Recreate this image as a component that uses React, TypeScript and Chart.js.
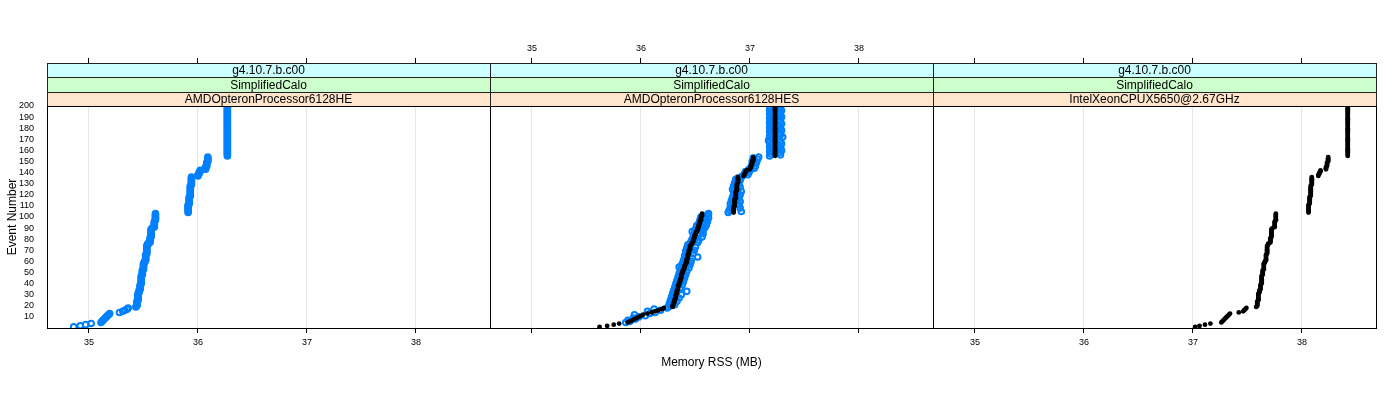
import React, { useEffect, useRef } from 'react';
import { Chart, registerables } from 'chart.js';

Chart.register(...registerables);
Chart.defaults.font.family = '"Liberation Sans", Arial, Helvetica, sans-serif';

// ---------- data ----------
const eventNumbers = [
  1, 2, 3, 4, 5, 6, 7, 8, 9, 10, 11, 12, 13, 14, 15, 16, 17, 18, 19, 20,
  21, 22, 23, 24, 25, 26, 27, 28, 29, 30, 31, 32, 33, 34, 35, 36, 37, 38, 39, 40,
  41, 42, 43, 44, 45, 46, 47, 48, 49, 50, 51, 52, 53, 54, 55, 56, 57, 58, 59, 60,
  61, 62, 63, 64, 65, 66, 67, 68, 69, 70, 71, 72, 73, 74, 75, 76, 77, 78, 79, 80,
  81, 82, 83, 84, 85, 86, 87, 88, 89, 90, 91, 92, 93, 94, 95, 96, 97, 98, 99, 100,
  101, 102, 103, 104, 105, 106, 107, 108, 109, 110, 111, 112, 113, 114, 115, 116, 117, 118, 119, 120,
  121, 122, 123, 124, 125, 126, 127, 128, 129, 130, 131, 132, 133, 134, 135, 136, 137, 138, 139, 140,
  141, 142, 143, 144, 145, 146, 147, 148, 149, 150, 151, 152, 153, 154, 155, 156, 157, 158, 159, 160,
  161, 162, 163, 164, 165, 166, 167, 168, 169, 170, 171, 172, 173, 174, 175, 176, 177, 178, 179, 180,
  181, 182, 183, 184, 185, 186, 187, 188, 189, 190, 191, 192, 193, 194, 195, 196, 197, 198, 199, 200,
];

const xTickValues = [35, 36, 37, 38];
const yTickValues = [10, 20, 30, 40, 50, 60, 70, 80, 90, 100, 110, 120, 130, 140, 150, 160, 170, 180, 190, 200];

const stripVersion = ['g4.10.7.b.c00', 'g4.10.7.b.c00', 'g4.10.7.b.c00'];
const stripTest = ['SimplifiedCalo', 'SimplifiedCalo', 'SimplifiedCalo'];
const stripCpu = ['AMDOpteronProcessor6128HE', 'AMDOpteronProcessor6128HES', 'IntelXeonCPUX5650@2.67GHz'];

// Panel 1 (AMD 6128HE), blue
const heBlue = [
  34.86, 34.92, 34.97, 35.02,
  35.11, 35.12, 35.13, 35.14, 35.15, 35.16, 35.17, 35.18, 35.19,
  35.28,
  35.31, 35.33, 35.35, 35.36,
  35.43, 35.44, 35.44, 35.44, 35.44, 35.44, 35.45, 35.45,
  35.45, 35.45, 35.45, 35.45, 35.45, 35.46, 35.46, 35.46,
  35.47, 35.47, 35.47, 35.47, 35.47, 35.48, 35.48, 35.48,
  35.48, 35.48, 35.48, 35.48, 35.48, 35.49, 35.49,
  35.49, 35.49, 35.49, 35.50, 35.50, 35.50,
  35.50, 35.50, 35.50, 35.51, 35.51,
  35.52, 35.52, 35.52, 35.52, 35.52, 35.52, 35.53, 35.53,
  35.53, 35.53, 35.53, 35.53, 35.53, 35.53, 35.54, 35.54,
  35.56, 35.56, 35.56, 35.56, 35.56, 35.57, 35.57,
  35.57, 35.57, 35.57, 35.57, 35.57, 35.57, 35.58,
  35.60, 35.60, 35.60, 35.60, 35.60, 35.60,
  35.61, 35.61, 35.61, 35.61, 35.61, 35.61, 35.61,
  35.91, 35.91, 35.91, 35.91, 35.91, 35.91, 35.91, 35.91, 35.92, 35.92, 35.92, 35.92, 35.92, 35.92, 35.92,
  35.93, 35.93, 35.93, 35.93, 35.93, 35.93, 35.93, 35.93, 35.93, 35.93, 35.94, 35.94, 35.94, 35.94, 35.94, 35.94, 35.94, 35.94,
  36.00, 36.00, 36.01, 36.01, 36.02, 36.02,
  36.07, 36.07, 36.07, 36.08, 36.08, 36.08,
  36.08, 36.09, 36.09, 36.09, 36.09, 36.09,
  36.27, 36.27, 36.27, 36.27, 36.27, 36.27, 36.27, 36.27, 36.27, 36.27,
  36.27, 36.27, 36.27, 36.27, 36.27, 36.27, 36.27, 36.27, 36.27, 36.27,
  36.27, 36.27, 36.27, 36.27, 36.27, 36.27, 36.27, 36.27, 36.27, 36.27,
  36.27, 36.27, 36.27, 36.27, 36.27, 36.27, 36.27, 36.27, 36.27, 36.27,
  36.27, 36.27, 36.27, 36.27, 36.27, 36.27,
];

// Panel 2 (AMD 6128HES), black reference
const hesBlack = [
  35.62, 35.69, 35.75, 35.80,
  35.88, 35.90, 35.92, 35.94, 35.96, 35.98, 36.00, 36.02,
  36.06,
  36.10, 36.13, 36.16, 36.19, 36.21,
  36.29, 36.29, 36.30, 36.30, 36.30, 36.31, 36.31, 36.31, 36.32, 36.32, 36.32, 36.32, 36.33, 36.33, 36.33, 36.33, 36.34, 36.34,
  36.34, 36.34, 36.35, 36.35, 36.35, 36.36, 36.36, 36.36, 36.37, 36.37, 36.37, 36.37,
  36.38, 36.38, 36.38, 36.39, 36.39, 36.40, 36.40, 36.40, 36.41, 36.41, 36.42, 36.42,
  36.42, 36.42, 36.43, 36.43, 36.43, 36.43, 36.44, 36.44, 36.44, 36.44, 36.45, 36.45, 36.45, 36.45, 36.46,
  36.47, 36.47, 36.48, 36.48, 36.48, 36.49, 36.49, 36.49, 36.50, 36.50, 36.51, 36.51,
  36.52, 36.52, 36.52, 36.53, 36.53, 36.53, 36.54, 36.54, 36.54, 36.55, 36.55, 36.55, 36.55, 36.56, 36.56, 36.56,
  36.85, 36.85, 36.85, 36.85, 36.85, 36.85, 36.86, 36.86, 36.86, 36.86, 36.86, 36.86, 36.86,
  36.87, 36.87, 36.87, 36.87, 36.87, 36.87, 36.87, 36.88, 36.88, 36.88, 36.88, 36.88, 36.88, 36.88,
  36.89, 36.89, 36.89, 36.89, 36.89, 36.89,
  36.94, 36.95, 36.95, 36.96, 36.96, 36.97,
  37.00, 37.00, 37.01, 37.01, 37.01, 37.02, 37.02, 37.02, 37.03, 37.03, 37.03, 37.03,
  37.23, 37.23, 37.23, 37.23, 37.23, 37.23, 37.23, 37.23, 37.23, 37.23,
  37.23, 37.23, 37.23, 37.23, 37.23, 37.23, 37.23, 37.23, 37.23, 37.23,
  37.23, 37.23, 37.23, 37.23, 37.23, 37.23, 37.23, 37.23, 37.23, 37.23,
  37.23, 37.23, 37.23, 37.23, 37.23, 37.23, 37.23, 37.23, 37.23, 37.23,
  37.23, 37.23, 37.23, 37.23, 37.23, 37.23,
];

// Panel 2 (AMD 6128HES), blue
const hesBlue = [
  null, null, null, null,
  35.86, 35.90, 35.88, 35.95, 35.93, 35.98, 36.04, 35.94,
  36.08,
  36.13, 36.06, 36.18, 36.12, 36.24,
  36.25, 36.27, 36.31, 36.26, 36.28, 36.33, 36.27, 36.29, 36.35, 36.28, 36.30, 36.37, 36.29, 36.31, 36.42, 36.30, 36.32, 36.36,
  36.31, 36.33, 36.38, 36.32, 36.34, 36.39, 36.33, 36.35, 36.40, 36.34, 36.36, 36.41,
  36.35, 36.37, 36.42, 36.36, 36.38, 36.44, 36.35, 36.37, 36.45, 36.38, 36.40, 36.46,
  36.39, 36.41, 36.47, 36.52, 36.40, 36.42, 36.48, 36.43, 36.41, 36.49, 36.44, 36.42, 36.50, 36.45, 36.43,
  36.45, 36.52, 36.46, 36.53, 36.47, 36.51, 36.56, 36.48, 36.52, 36.57, 36.49, 36.47,
  36.57, 36.50, 36.58, 36.59, 36.51, 36.60, 36.53, 36.58, 36.61, 36.54, 36.59, 36.62, 36.55, 36.60, 36.61, 36.62,
  36.80, 36.92, 36.81, 36.83, 36.91, 36.82, 36.84, 36.90, 36.82, 36.85, 36.91, 36.83, 36.86, 36.90, 36.84, 36.87,
  36.91, 36.85, 36.88, 36.92, 36.86, 36.84, 36.89, 36.91, 36.85, 36.87, 36.90, 36.86, 36.88, 36.91, 36.87, 36.89, 36.92,
  36.93, 36.98, 36.95, 36.99, 36.96, 37.00,
  36.99, 37.04, 37.01, 37.05, 37.02, 37.03, 37.06, 37.02, 37.04, 37.07, 37.03, 37.08,
  37.18, 37.28, 37.19, 37.27, 37.18, 37.29, 37.20, 37.28, 37.18, 37.27,
  37.19, 37.29, 37.18, 37.28, 37.17, 37.27, 37.19, 37.30, 37.18, 37.28,
  37.19, 37.27, 37.18, 37.29, 37.20, 37.28, 37.18, 37.27, 37.19, 37.29,
  37.18, 37.28, 37.19, 37.27, 37.18, 37.29, 37.20, 37.28, 37.18, 37.27,
  37.19, 37.29, 37.18, 37.28, 37.19, 37.27,
];

// Panel 3 (Intel X5650), black
const intelBlack = [
  37.02, 37.06, 37.11, 37.16,
  37.26, 37.27, 37.28, 37.29, 37.30, 37.31, 37.32, 37.33, 37.34,
  37.42,
  37.46, 37.47, 37.48, 37.49,
  37.58, 37.59, 37.59, 37.59, 37.59, 37.59, 37.60, 37.60,
  37.60, 37.60, 37.60, 37.60, 37.60, 37.61, 37.61, 37.61,
  37.62, 37.62, 37.62, 37.62, 37.62, 37.63, 37.63, 37.63,
  37.63, 37.63, 37.63, 37.63, 37.63, 37.64, 37.64,
  37.64, 37.64, 37.64, 37.65, 37.65, 37.65,
  37.65, 37.65, 37.65, 37.66, 37.66,
  37.67, 37.67, 37.67, 37.67, 37.67, 37.67, 37.68, 37.68,
  37.68, 37.68, 37.68, 37.68, 37.68, 37.68, 37.69, 37.69,
  37.71, 37.71, 37.71, 37.71, 37.71, 37.72, 37.72,
  37.72, 37.72, 37.72, 37.72, 37.72, 37.72, 37.73,
  37.75, 37.75, 37.75, 37.75, 37.75, 37.75,
  37.76, 37.76, 37.76, 37.76, 37.76, 37.76, 37.76,
  38.06, 38.06, 38.06, 38.06, 38.06, 38.06, 38.06, 38.06, 38.07, 38.07, 38.07, 38.07, 38.07, 38.07, 38.07,
  38.08, 38.08, 38.08, 38.08, 38.08, 38.08, 38.08, 38.08, 38.08, 38.08, 38.09, 38.09, 38.09, 38.09, 38.09, 38.09, 38.09, 38.09,
  38.15, 38.15, 38.16, 38.16, 38.17, 38.17,
  38.22, 38.22, 38.22, 38.23, 38.23, 38.23,
  38.23, 38.24, 38.24, 38.24, 38.24, 38.24,
  38.42, 38.42, 38.42, 38.42, 38.42, 38.42, 38.42, 38.42, 38.42, 38.42,
  38.42, 38.42, 38.42, 38.42, 38.42, 38.42, 38.42, 38.42, 38.42, 38.42,
  38.42, 38.42, 38.42, 38.42, 38.42, 38.42, 38.42, 38.42, 38.42, 38.42,
  38.42, 38.42, 38.42, 38.42, 38.42, 38.42, 38.42, 38.42, 38.42, 38.42,
  38.42, 38.42, 38.42, 38.42, 38.42, 38.42,
];

const X_MIN = 34.615;
const X_MAX = 38.679;
const Y_MIN = 0;
const Y_MAX = 200;

const BLUE = '#0080ff';
const STRIP_COLORS = ['#ccffff', '#ccffcc', '#ffe5cc'];

function toPoints(values: (number | null)[]) {
  const pts: { x: number; y: number }[] = [];
  values.forEach((v, i) => {
    if (v !== null && v !== undefined) pts.push({ x: v, y: eventNumbers[i] });
  });
  return pts;
}

const blueRing = (values: (number | null)[]) => ({
  data: toPoints(values),
  pointStyle: 'circle',
  pointRadius: 2.8,
  pointBorderWidth: 2,
  pointBackgroundColor: 'rgba(0,0,0,0)',
  pointBorderColor: BLUE,
  showLine: false,
});

const blackDot = (values: (number | null)[]) => ({
  data: toPoints(values),
  pointStyle: 'circle',
  pointRadius: 2.4,
  pointBorderWidth: 0,
  pointBackgroundColor: '#000',
  pointBorderColor: '#000',
  showLine: false,
});

const panels = [
  { left: 47, right: 490, datasets: [blueRing(heBlue)], idx: 0, showY: true, bottomLabels: true, topLabels: false, xTitle: false },
  { left: 490, right: 933, datasets: [blackDot(hesBlack), blueRing(hesBlue)], idx: 1, showY: false, bottomLabels: false, topLabels: true, xTitle: true },
  { left: 933, right: 1376, datasets: [blackDot(intelBlack)], idx: 2, showY: false, bottomLabels: true, topLabels: false, xTitle: false },
];

const STRIP_TOTAL = 43;

const stripPlugin = {
  id: 'latticeStrips',
  afterDraw(chart: any, _args: any, opts: any) {
    const { ctx, chartArea } = chart;
    const { left, right, top, bottom } = chartArea;
    const i = opts.idx;
    const texts = [stripVersion[i], stripTest[i], stripCpu[i]];
    const edges = [top - STRIP_TOTAL, top - 29, top - 14, top];
    ctx.save();
    for (let k = 0; k < 3; k++) {
      const y0 = edges[k];
      const y1 = edges[k + 1];
      ctx.fillStyle = STRIP_COLORS[k];
      ctx.fillRect(left, y0, right - left, y1 - y0);
    }
    ctx.strokeStyle = '#222';
    ctx.lineWidth = 1;
    for (let k = 0; k < 3; k++) {
      ctx.strokeRect(left + 0.5, edges[k] + 0.5, right - left, edges[k + 1] - edges[k]);
    }
    ctx.fillStyle = '#000';
    ctx.font = '12px "Liberation Sans", Arial, sans-serif';
    ctx.textAlign = 'center';
    ctx.textBaseline = 'middle';
    for (let k = 0; k < 3; k++) {
      ctx.fillText(texts[k], (left + right) / 2, (edges[k] + edges[k + 1]) / 2 + 1);
    }
    ctx.strokeStyle = '#000';
    ctx.strokeRect(left + 0.5, top + 0.5, right - left, bottom - top);
    ctx.restore();
  },
};

const Y_WIDTH = 42;

function Panel({ cfg }: { cfg: any }) {
  const ref = useRef<HTMLCanvasElement>(null);
  useEffect(() => {
    if (!ref.current) return;
    const chart = new Chart(ref.current, {
      type: 'scatter',
      data: { datasets: cfg.datasets },
      plugins: [stripPlugin],
      options: {
        responsive: false,
        animation: false,
        events: [],
        layout: {
          autoPadding: false,
          padding: {
            left: cfg.left - Y_WIDTH,
            right: 1400 - cfg.right,
            top: 26,
            bottom: 30,
          },
        },
        plugins: {
          legend: { display: false },
          tooltip: { enabled: false },
          latticeStrips: { idx: cfg.idx },
        } as any,
        scales: {
          x: {
            type: 'linear',
            position: 'bottom',
            min: X_MIN,
            max: X_MAX,
            afterBuildTicks: (s: any) => {
              s.ticks = xTickValues.map((v) => ({ value: v }));
            },
            afterFit: (s: any) => {
              s.height = 42;
            },
            grid: {
              display: true,
              drawOnChartArea: true,
              drawTicks: true,
              tickLength: 5,
              color: '#e6e6e6',
              tickColor: '#000',
              lineWidth: 1,
            },
            border: { display: false },
            ticks: {
              display: cfg.bottomLabels,
              padding: 4,
              font: { size: 9 },
              color: '#000',
              maxRotation: 0,
              autoSkip: false,
            },
            title: {
              display: cfg.xTitle,
              text: 'Memory RSS (MB)',
              font: { size: 12 },
              color: '#000',
              padding: 0,
            },
          },
          xTop: {
            type: 'linear',
            axis: 'x',
            position: 'top',
            min: X_MIN,
            max: X_MAX,
            afterBuildTicks: (s: any) => {
              s.ticks = xTickValues.map((v) => ({ value: v }));
            },
            afterFit: (s: any) => {
              s.height = 80;
            },
            grid: {
              display: true,
              drawOnChartArea: false,
              drawTicks: true,
              tickLength: 48,
              tickColor: '#000',
              lineWidth: 1,
            },
            border: { display: false },
            ticks: {
              display: cfg.topLabels,
              padding: 4,
              font: { size: 9 },
              color: '#000',
              maxRotation: 0,
              autoSkip: false,
            },
          },
          y: {
            type: 'linear',
            position: 'left',
            min: Y_MIN,
            max: Y_MAX,
            afterBuildTicks: (s: any) => {
              s.ticks = yTickValues.map((v) => ({ value: v }));
            },
            afterFit: (s: any) => {
              s.width = Y_WIDTH;
            },
            grid: { display: false },
            border: { display: false },
            ticks: {
              display: cfg.showY,
              padding: 5,
              font: { size: 9 },
              color: '#000',
              autoSkip: false,
            },
            title: {
              display: cfg.showY,
              text: 'Event Number',
              font: { size: 12 },
              color: '#000',
              padding: 0,
            },
          },
        } as any,
      },
    } as any);
    return () => chart.destroy();
  }, []);
  return (
    <canvas
      ref={ref}
      width={1400}
      height={400}
      style={{ position: 'absolute', left: 0, top: 0, width: 1400, height: 400 }}
    />
  );
}

export default function App() {
  return (
    <div
      style={{
        position: 'fixed',
        left: 0,
        top: 0,
        width: 1400,
        height: 400,
        background: '#fff',
        overflow: 'hidden',
      }}
    >
      {panels.map((p) => (
        <Panel key={p.idx} cfg={p} />
      ))}
    </div>
  );
}
